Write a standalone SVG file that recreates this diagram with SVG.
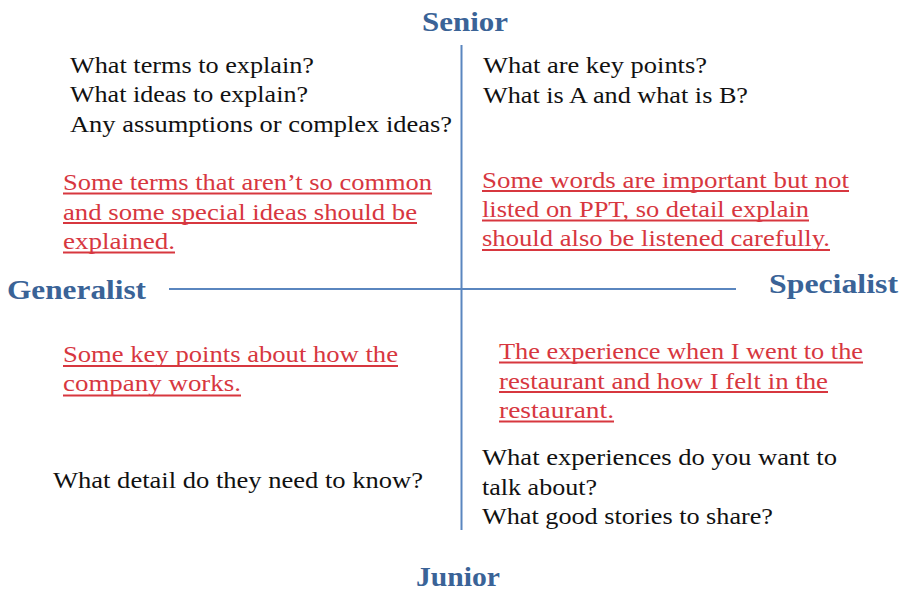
<svg xmlns="http://www.w3.org/2000/svg" width="909" height="592" viewBox="0 0 909 592">
<style>
.hd{font-family:"Liberation Serif","DejaVu Serif",serif;font-weight:bold;font-size:28px;fill:#3A6397}
.bk{font-family:"Liberation Serif","DejaVu Serif",serif;font-size:24px;fill:#111}
.rd{font-family:"Liberation Serif","DejaVu Serif",serif;font-size:24px;fill:#D7373F}
.ul{stroke:#D7373F;stroke-width:2}
.ax{stroke:#5A86BF;stroke-width:2;fill:none}
</style>
<rect width="909" height="592" fill="#fff"/>
<g id="axes">
<line class="ax" x1="461.5" y1="45" x2="461.5" y2="530"/>
<line class="ax" x1="169" y1="289" x2="736" y2="289"/>
</g>
<g id="senior"><text class="hd" x="422" y="31" textLength="86" lengthAdjust="spacingAndGlyphs">Senior</text></g>
<g id="junior"><text class="hd" x="416" y="586" textLength="84" lengthAdjust="spacingAndGlyphs">Junior</text></g>
<g id="generalist"><text class="hd" x="7" y="299" textLength="139" lengthAdjust="spacingAndGlyphs">Generalist</text></g>
<g id="specialist"><text class="hd" x="769" y="293" textLength="129" lengthAdjust="spacingAndGlyphs">Specialist</text></g>
<g id="q-top-left">
<text class="bk" x="70" y="73" textLength="244" lengthAdjust="spacingAndGlyphs">What terms to explain?</text>
<text class="bk" x="70" y="102" textLength="238" lengthAdjust="spacingAndGlyphs">What ideas to explain?</text>
<text class="bk" x="70" y="132" textLength="382" lengthAdjust="spacingAndGlyphs">Any assumptions or complex ideas?</text>
</g>
<g id="a-top-left">
<text class="rd" x="63" y="190" textLength="369" lengthAdjust="spacingAndGlyphs">Some terms that aren’t so common</text>
<text class="rd" x="63" y="220" textLength="354" lengthAdjust="spacingAndGlyphs">and some special ideas should be</text>
<text class="rd" x="63" y="249" textLength="112" lengthAdjust="spacingAndGlyphs">explained.</text>
<line class="ul" x1="63" y1="193.5" x2="432" y2="193.5"/>
<line class="ul" x1="63" y1="223" x2="417" y2="223"/>
<line class="ul" x1="63" y1="252.5" x2="175" y2="252.5"/>
</g>
<g id="q-top-right">
<text class="bk" x="483" y="73" textLength="224" lengthAdjust="spacingAndGlyphs">What are key points?</text>
<text class="bk" x="483" y="103" textLength="265" lengthAdjust="spacingAndGlyphs">What is A and what is B?</text>
</g>
<g id="a-top-right">
<text class="rd" x="482" y="188" textLength="367" lengthAdjust="spacingAndGlyphs">Some words are important but not</text>
<text class="rd" x="482" y="217" textLength="327" lengthAdjust="spacingAndGlyphs">listed on PPT, so detail explain</text>
<text class="rd" x="482" y="246" textLength="348" lengthAdjust="spacingAndGlyphs">should also be listened carefully.</text>
<line class="ul" x1="482" y1="191" x2="849" y2="191"/>
<line class="ul" x1="482" y1="220.5" x2="809" y2="220.5"/>
<line class="ul" x1="482" y1="250" x2="830" y2="250"/>
</g>
<g id="a-bottom-left">
<text class="rd" x="63" y="362" textLength="335" lengthAdjust="spacingAndGlyphs">Some key points about how the</text>
<text class="rd" x="63" y="391" textLength="178" lengthAdjust="spacingAndGlyphs">company works.</text>
<line class="ul" x1="63" y1="366" x2="398" y2="366"/>
<line class="ul" x1="63" y1="395.5" x2="241" y2="395.5"/>
</g>
<g id="q-bottom-left">
<text class="bk" x="53" y="488" textLength="370" lengthAdjust="spacingAndGlyphs">What detail do they need to know?</text>
</g>
<g id="a-bottom-right">
<text class="rd" x="499" y="359" textLength="364" lengthAdjust="spacingAndGlyphs">The experience when I went to the</text>
<text class="rd" x="499" y="389" textLength="329" lengthAdjust="spacingAndGlyphs">restaurant and how I felt in the</text>
<text class="rd" x="499" y="418" textLength="115" lengthAdjust="spacingAndGlyphs">restaurant.</text>
<line class="ul" x1="499" y1="362.5" x2="863" y2="362.5"/>
<line class="ul" x1="499" y1="392" x2="828" y2="392"/>
<line class="ul" x1="499" y1="421.5" x2="614" y2="421.5"/>
</g>
<g id="q-bottom-right">
<text class="bk" x="482" y="465" textLength="355" lengthAdjust="spacingAndGlyphs">What experiences do you want to</text>
<text class="bk" x="482" y="495" textLength="115" lengthAdjust="spacingAndGlyphs">talk about?</text>
<text class="bk" x="482" y="524" textLength="291" lengthAdjust="spacingAndGlyphs">What good stories to share?</text>
</g>
</svg>
